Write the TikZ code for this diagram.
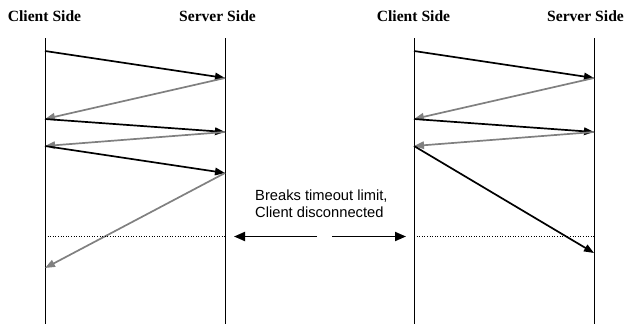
\documentclass[tikz,border=0pt]{standalone}
\usepackage{fontspec}
\setmainfont{Liberation Serif}
\newfontfamily\arialfont{Liberation Sans}
\usetikzlibrary{arrows.meta}
\definecolor{msggray}{RGB}{128,128,128}
\tikzset{
  lifeline/.style={line width=0.9pt, black},
  req/.style={line width=1.7pt, black, -{Triangle[length=10pt,width=7.5pt]}},
  resp/.style={line width=1.7pt, msggray, -{Triangle[length=10pt,width=7.5pt]}},
  timeout/.style={line width=0.6pt, dotted},
  bigarrow/.style={line width=1.9pt, black, -{Triangle[length=11pt,width=9pt]}},
  heading/.style={font=\fontsize{15.6}{18}\selectfont\bfseries, anchor=base, inner sep=0pt},
  note/.style={font=\arialfont\fontsize{14.7}{17}\selectfont, align=left, anchor=north west, inner sep=0pt}
}
\begin{document}
\begin{tikzpicture}[x=1pt,y=-1pt]
\useasboundingbox (0,0) rectangle (626,324);
% headings
\node[heading] (hc1) at (44.5,21) {Client Side};
\node[heading] (hs1) at (217.5,21) {Server Side};
\node[heading] (hc2) at (413.5,21) {Client Side};
\node[heading] (hs2) at (585.5,21) {Server Side};
% lifelines
\coordinate (c1top) at (45,38); \coordinate (c1bot) at (45,324);
\coordinate (s1top) at (225,38); \coordinate (s1bot) at (225,324);
\coordinate (c2top) at (414,38); \coordinate (c2bot) at (414,324);
\coordinate (s2top) at (594,38); \coordinate (s2bot) at (594,324);
\draw[lifeline] (c1top) -- (c1bot);
\draw[lifeline] (s1top) -- (s1bot);
\draw[lifeline] (c2top) -- (c2bot);
\draw[lifeline] (s2top) -- (s2bot);
% left scenario points
\coordinate (a1) at (45,51);
\coordinate (b1) at (225,78);
\coordinate (a2) at (45,119);
\coordinate (b2) at (225,132);
\coordinate (a3) at (45,146);
\coordinate (b3) at (225,173);
\coordinate (a4) at (45,268);
\draw[req] (a1) -- (b1);
\draw[resp] (b1) -- (a2);
\draw[req] (a2) -- (b2);
\draw[resp] (b2) -- (a3);
\draw[req] (a3) -- (b3);
\draw[resp] (b3) -- (a4);
% right scenario points
\coordinate (p1) at (414,51);
\coordinate (q1) at (594,78);
\coordinate (p2) at (414,119);
\coordinate (q2) at (594,132);
\coordinate (p3) at (414,146);
\coordinate (q3) at (594,253);
\draw[req] (p1) -- (q1);
\draw[resp] (q1) -- (p2);
\draw[req] (p2) -- (q2);
\draw[resp] (q2) -- (p3);
\draw[req] (p3) -- (q3);
% timeout lines
\coordinate (t1l) at (45,236.5); \coordinate (t1r) at (225,236.5);
\coordinate (t2l) at (414,236.5); \coordinate (t2r) at (594,236.5);
\draw[timeout] (t1l) -- (t1r);
\draw[timeout] (t2l) -- (t2r);
% note and arrows
\node[note] (note) at (255,190) {Breaks timeout limit,\\Client disconnected};
\coordinate (la) at (317,236.5); \coordinate (lb) at (234,236.5);
\coordinate (ra) at (332,236.5); \coordinate (rb) at (406,236.5);
\draw[bigarrow] (la) -- (lb);
\draw[bigarrow] (ra) -- (rb);
\end{tikzpicture}
\end{document}
